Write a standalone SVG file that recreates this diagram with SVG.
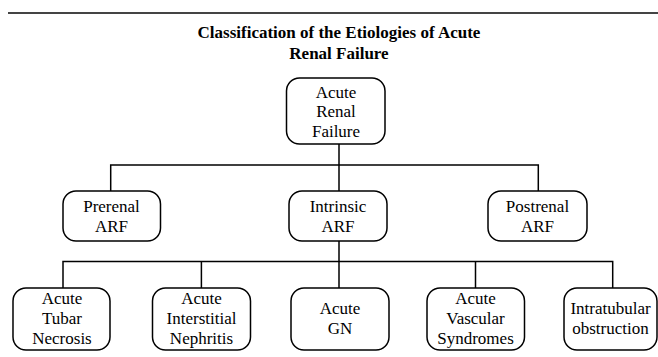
<svg xmlns="http://www.w3.org/2000/svg" width="658" height="357" viewBox="0 0 658 357">
<style>
.box{fill:#fff;stroke:#000;stroke-width:1.5}
.t{font-family:"Liberation Serif","Times New Roman",serif;font-size:17px;fill:#000;text-anchor:middle}
.title{font-family:"Liberation Serif","Times New Roman",serif;font-size:17px;font-weight:bold;fill:#000;text-anchor:middle}
.c{stroke:#000;stroke-width:1.5;fill:none}
</style>
<rect width="658" height="357" fill="#fff"/>
<line x1="8" y1="13" x2="658" y2="13" stroke="#444" stroke-width="2"/>
<text class="title" x="339" y="38">Classification of the Etiologies of Acute</text>
<text class="title" x="339" y="59">Renal Failure</text>
<g id="connectors">
<path class="c" d="M339 144V165M110.7 191V165H538.3V191M339 165V191"/>
<path class="c" d="M339 241V261.5M63 288V261.5H612.7V288M201.4 261.5V288M339 261.5V288M475.5 261.5V288"/>
</g>
<g id="root">
<rect class="box" x="286.5" y="78" width="98.5" height="66" rx="13"/>
<text class="t" x="336" y="97.5">Acute</text>
<text class="t" x="336" y="117">Renal</text>
<text class="t" x="336" y="136.5">Failure</text>
</g>
<g id="prerenal">
<rect class="box" x="63" y="191" width="97.5" height="50" rx="13"/>
<text class="t" x="111.5" y="212">Prerenal</text>
<text class="t" x="111.5" y="232">ARF</text>
</g>
<g id="intrinsic">
<rect class="box" x="289" y="191" width="98" height="50" rx="13"/>
<text class="t" x="338" y="212">Intrinsic</text>
<text class="t" x="338" y="232">ARF</text>
</g>
<g id="postrenal">
<rect class="box" x="488" y="191" width="99" height="50" rx="13"/>
<text class="t" x="537.5" y="212">Postrenal</text>
<text class="t" x="537.5" y="232">ARF</text>
</g>
<g id="atn">
<rect class="box" x="13" y="288" width="97" height="62" rx="13"/>
<text class="t" x="62" y="304">Acute</text>
<text class="t" x="62" y="324">Tubar</text>
<text class="t" x="62" y="344">Necrosis</text>
</g>
<g id="ain">
<rect class="box" x="152.5" y="288" width="98" height="62" rx="13"/>
<text class="t" x="201.5" y="304">Acute</text>
<text class="t" x="201.5" y="324">Interstitial</text>
<text class="t" x="201.5" y="344">Nephritis</text>
</g>
<g id="gn">
<rect class="box" x="291" y="288" width="98" height="62" rx="13"/>
<text class="t" x="340" y="314">Acute</text>
<text class="t" x="340" y="334">GN</text>
</g>
<g id="avs">
<rect class="box" x="427" y="288" width="97.5" height="62" rx="13"/>
<text class="t" x="475.5" y="304">Acute</text>
<text class="t" x="475.5" y="324">Vascular</text>
<text class="t" x="475.5" y="344">Syndromes</text>
</g>
<g id="intratubular">
<rect class="box" x="564" y="288" width="93" height="62" rx="13"/>
<text class="t" x="610.5" y="314">Intratubular</text>
<text class="t" x="610.5" y="334">obstruction</text>
</g>
</svg>
